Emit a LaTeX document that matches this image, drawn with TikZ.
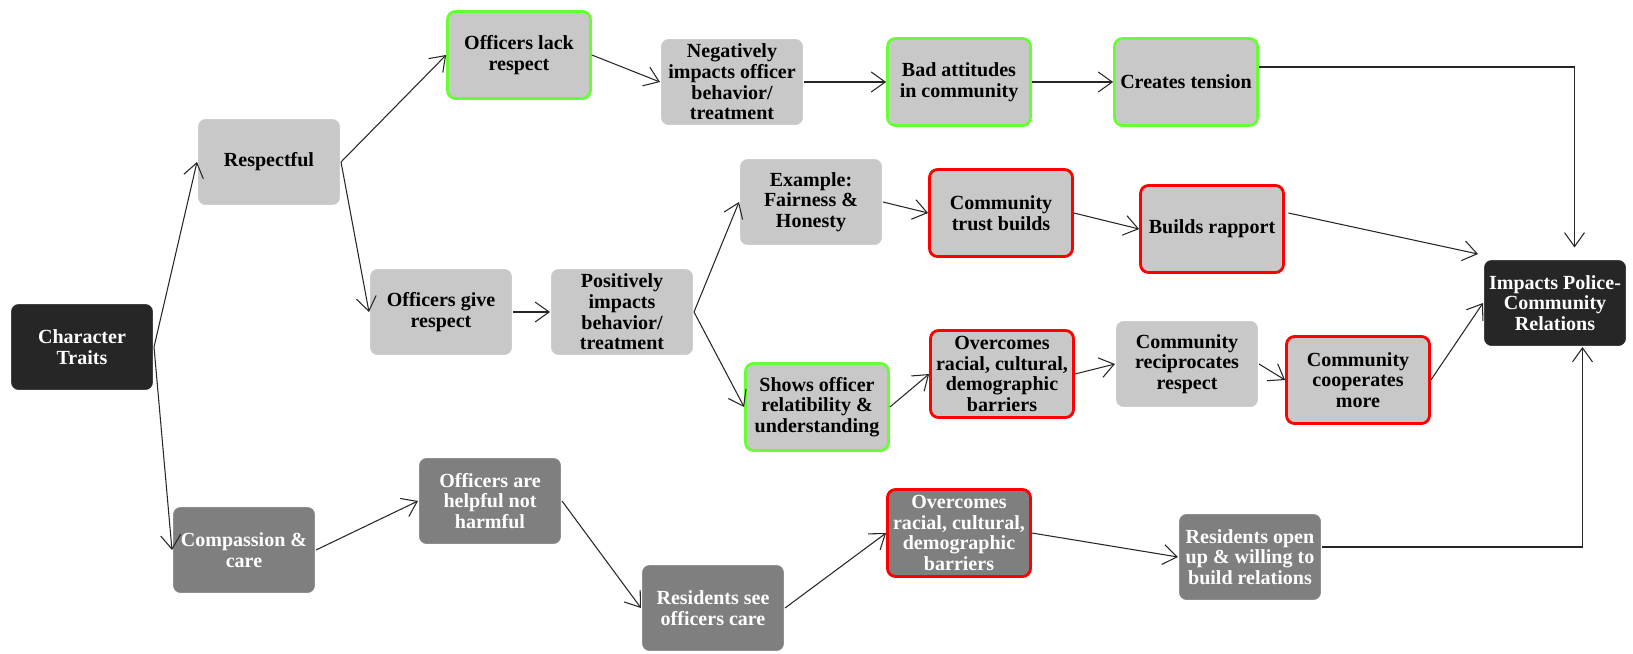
\documentclass[tikz,border=0pt]{standalone}
\usepackage{fontspec}
\setmainfont{Liberation Serif}
\usepackage{xcolor}
\usetikzlibrary{arrows.meta}
\definecolor{boxlight}{HTML}{C8C8C8}
\definecolor{boxdark}{HTML}{7F7F7F}
\definecolor{boxblack}{HTML}{262626}
\definecolor{rimgreen}{HTML}{66FF33}
\definecolor{rimred}{HTML}{FF0000}
\definecolor{lineclr}{HTML}{262626}

\begin{document}
\begin{tikzpicture}[x=0.02cm,y=-0.02cm]
\tikzset{>={Straight Barb[length=2.8mm,width=4mm]}}
\tikzstyle{box} =[rectangle, rounded corners=1.6mm, minimum width=2.86cm, minimum height=1.74cm, inner sep=1pt, align=center, font=\fontsize{11.4}{11.8}\selectfont\bfseries, draw=white, line width=0.6pt]
\tikzstyle{light} =[box, fill=boxlight, text=black]
\tikzstyle{dark} =[box, fill=boxdark, text=white]
\tikzstyle{topbox} =[box, fill=boxblack, text=white]
\tikzstyle{greenrim} =[draw=rimgreen, line width=1.6pt]
\tikzstyle{redrim} =[draw=rimred, line width=1.6pt]
\tikzstyle{link} =[->, draw=lineclr, line width=0.6pt]

\useasboundingbox (0,0) rectangle (1633,653);

% left part
\node[topbox](ct) at (82,347){Character\\Traits};
\node[light](resp) at (269,162){Respectful};
\node[dark](comp) at (244,550){Compassion \&\\care};

% top row
\node[light,greenrim](lack) at (519,55){Officers lack\\respect};
\node[light](negimp) at (732,82){Negatively\\impacts officer\\behavior/\\treatment};
\node[light,greenrim](badatt) at (959,82){Bad attitudes\\in community};
\node[light,greenrim](tension) at (1186,82){Creates tension};

% middle rows
\node[light](give) at (441,312){Officers give\\respect};
\node[light](posimp) at (622,312){Positively\\impacts\\behavior/\\treatment};
\node[light](example) at (811,202){Example:\\Fairness \&\\Honesty};
\node[light,redrim](trust) at (1001,213){Community\\trust builds};
\node[light,redrim](rapport) at (1212,229){Builds rapport};
\node[light,greenrim](shows) at (817,407){Shows officer\\relatibility \&\\understanding};
\node[light,redrim](overc) at (1002,374){Overcomes\\racial, cultural,\\demographic\\barriers};
\node[light](recip) at (1187,364){Community\\reciprocates\\respect};
\node[light,redrim](coop) at (1358,380){Community\\cooperates\\more};
\node[topbox](impacts) at (1555,303){Impacts Police-\\Community\\Relations};

% bottom row
\node[dark](helpful) at (490,501){Officers are\\helpful not\\harmful};
\node[dark](ressee) at (713,608){Residents see\\officers care};
\node[dark,redrim](overcb) at (959,533){Overcomes\\racial, cultural,\\demographic\\barriers};
\node[dark](resopen) at (1250,557){Residents open\\up \& willing to\\build relations};

\draw[link] (ct.east) -- (resp.west);
\draw[link] (ct.east) -- (comp.west);
\draw[link] (resp.east) -- (lack.west);
\draw[link] (resp.east) -- (give.west);
\draw[link] (lack.east) -- (negimp.west);
\draw[link] (negimp.east) -- (badatt.west);
\draw[link] (badatt.east) -- (tension.west);
\draw[link] ([yshift=0.3cm]tension.east) -| ([xshift=0.39cm,yshift=0.23cm]impacts.north);
\draw[link] (give.east) -- (posimp.west);
\draw[link] (posimp.east) -- (example.west);
\draw[link] (posimp.east) -- (shows.west);
\draw[link] (example.east) -- (trust.west);
\draw[link] (trust.east) -- (rapport.west);
\draw[link] ([xshift=0.07cm,yshift=0.32cm]rapport.east) -- ([xshift=-0.1cm,yshift=0.1cm]impacts.north west);
\draw[link] (shows.east) -- (overc.west);
\draw[link] (overc.east) -- (recip.west);
\draw[link] (recip.east) -- (coop.west);
\draw[link] (coop.east) -- (impacts.west);
\draw[link] (comp.east) -- (helpful.west);
\draw[link] (helpful.east) -- (ressee.west);
\draw[link] (ressee.east) -- (overcb.west);
\draw[link] (overcb.east) -- (resopen.west);
\draw[link] ([yshift=0.2cm]resopen.east) -| ([xshift=0.55cm]impacts.south);
\end{tikzpicture}
\end{document}
